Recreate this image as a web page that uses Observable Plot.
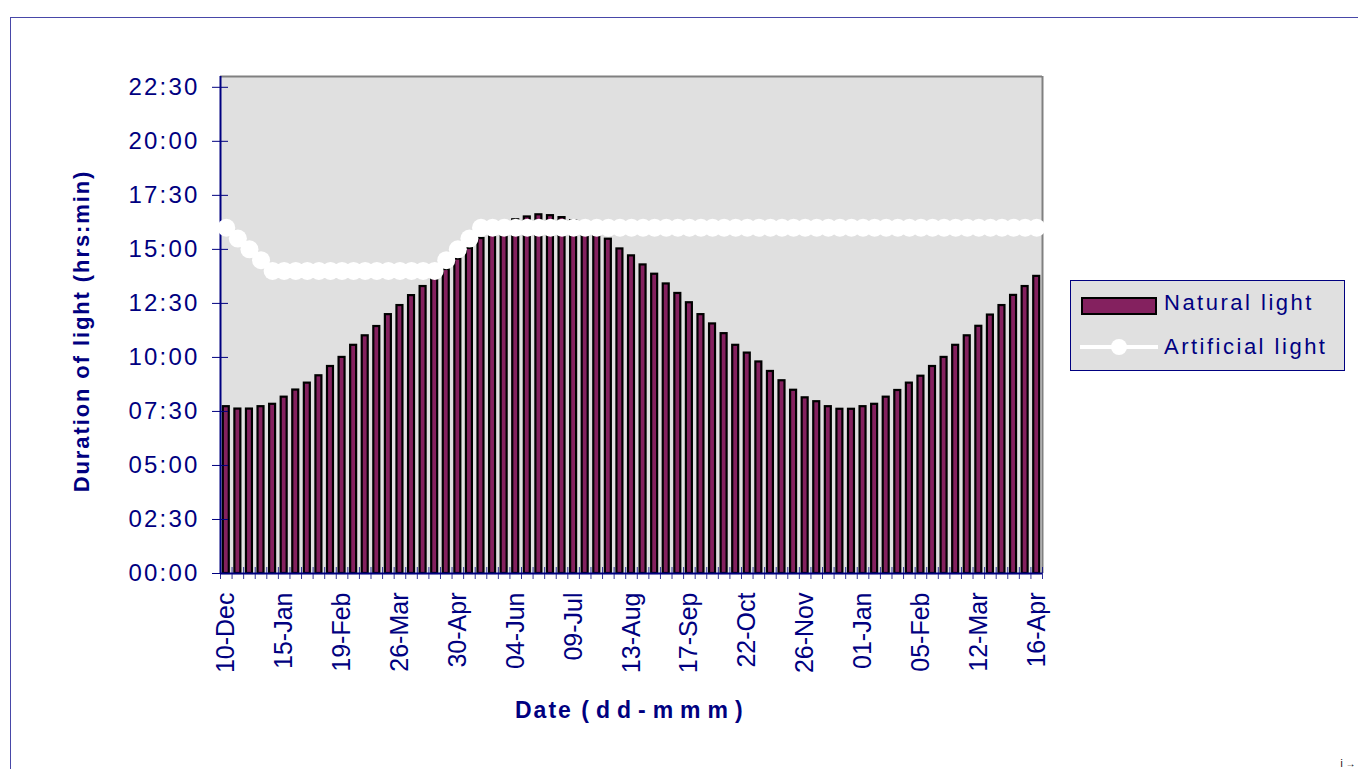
<!DOCTYPE html>
<html>
<head>
<meta charset="utf-8">
<script src="https://cdn.jsdelivr.net/npm/d3@7"></script>
<script src="https://cdn.jsdelivr.net/npm/@observablehq/plot@0.6"></script>
<style>
  body { margin: 0; background: #ffffff; font-family: "Liberation Sans", Arial, sans-serif; overflow: hidden; }
  #wrap { position: relative; width: 1358px; height: 769px; overflow: hidden; background: #fff; }
  #frame { position: absolute; left: 10px; top: 17px; width: 1360px; height: 760px; border: 1px solid #4848a8; }
  #chart { position: absolute; left: 0; top: 0; }
  #chart svg g[aria-label="y-axis tick label"] text { letter-spacing: 2.2px; }
  .ytitle { position: absolute; left: 82px; top: 331px; transform: translate(-50%, -50%) rotate(-90deg);
            white-space: nowrap; font-weight: bold; font-size: 22px; letter-spacing: 1.9px; color: #000080; }
  .xtitle { position: absolute; left: 515px; top: 699px; white-space: nowrap; font-weight: bold;
            font-size: 23px; line-height: 23px; color: #000080; }
  #legend { position: absolute; left: 1070px; top: 280px; width: 275px; height: 91px;
            background: #e0e0e0; border: 1px solid #000080; box-sizing: border-box; }
  .lrow { position: absolute; left: 0; font-size: 22px; letter-spacing: 2.5px; color: #000080; white-space: nowrap; line-height: 22px; }
</style>
</head>
<body>
<div id="wrap">
  <div id="frame"></div>
  <div id="chart"></div>
  <div class="ytitle">Duration of light (hrs:min)</div>
  <div class="xtitle"><span style="letter-spacing:2px">Date </span><span style="letter-spacing:7px">(dd-mmm)</span></div>
  <div id="legend"></div>
</div>
<script>
// ---- data (hours of light per week) ----
const tickLabels = ["10-Dec","15-Jan","19-Feb","26-Mar","30-Apr","04-Jun","09-Jul","13-Aug","17-Sep","22-Oct","26-Nov","01-Jan","05-Feb","12-Mar","16-Apr"];

const naturalHours = [
  7.72, 7.61, 7.61, 7.72, 7.83, 8.16, 8.49, 8.81, 9.15, 9.58,
  10.0, 10.56, 11.0, 11.43, 11.98, 12.4, 12.86, 13.28, 13.7, 14.07,
  14.55, 15.04, 15.5, 15.85, 16.15, 16.37, 16.5, 16.6, 16.56, 16.47,
  16.33, 16.1, 15.8, 15.47, 15.02, 14.7, 14.28, 13.85, 13.4, 12.96,
  12.53, 11.98, 11.55, 11.1, 10.56, 10.2, 9.79, 9.35, 8.92, 8.48,
  8.13, 7.95, 7.72, 7.6, 7.6, 7.72, 7.83, 8.16, 8.47, 8.81,
  9.13, 9.58, 10.0, 10.56, 11.0, 11.44, 11.96, 12.4, 12.87, 13.28,
  13.75
];

const artificialHours = [
  16, 15.5, 15, 14.5, 14, 14, 14, 14, 14, 14,
  14, 14, 14, 14, 14, 14, 14, 14, 14, 14.5,
  15, 15.5, 16, 16, 16, 16, 16, 16, 16, 16,
  16, 16, 16, 16, 16, 16, 16, 16, 16, 16,
  16, 16, 16, 16, 16, 16, 16, 16, 16, 16,
  16, 16, 16, 16, 16, 16, 16, 16, 16, 16,
  16, 16, 16, 16, 16, 16, 16, 16, 16, 16,
  16
];

const yTicks = [0, 2.5, 5, 7.5, 10, 12.5, 15, 17.5, 20, 22.5];
const yMax = 23;

// ---- build table ----
const n = naturalHours.length;
const data = naturalHours.map((v, i) => ({ i, natural: v, artificial: artificialHours[i] }));
const navy = "#000080";
const fmtHM = h => {
  const m = Math.round(h * 60);
  return String(Math.floor(m / 60)).padStart(2, "0") + ":" + String(m % 60).padStart(2, "0");
};
const labelPos = tickLabels.map((_, k) => k * 5 + 0.5);

const chart = Plot.plot({
  width: 1358,
  height: 769,
  marginLeft: 220,
  marginRight: 316,
  marginTop: 76,
  marginBottom: 196,
  style: { fontFamily: '"Liberation Sans", Arial, sans-serif', background: "transparent", overflow: "visible" },
  x: { type: "linear", domain: [0, n] },
  y: { domain: [0, yMax] },
  marks: [
    Plot.frame({ fill: "#e0e0e0", stroke: null }),
    Plot.rectY(data, {
      x1: "i", x2: d => d.i + 1, y: "natural",
      insetLeft: 2.8, insetRight: 2.8,
      fill: "#84215f", stroke: "#000", strokeWidth: 2.2
    }),
    Plot.ruleY([yMax], { stroke: "#808080", strokeWidth: 2 }),
    Plot.ruleX([n], { stroke: "#808080", strokeWidth: 2 }),
    Plot.axisX({
      ticks: d3.range(0, n + 1), tickSize: 12, dy: -6,
      tickFormat: () => "", stroke: navy, strokeOpacity: 0.8
    }),
    Plot.axisX({
      ticks: labelPos, tickSize: 0, tickPadding: 19, tickRotate: -90,
      tickFormat: v => tickLabels[Math.round((v - 0.5) / 5)],
      fontSize: 25, fill: navy, label: null
    }),
    Plot.axisY({
      ticks: yTicks, tickSize: 16, dx: 8, tickPadding: 13,
      tickFormat: fmtHM, fontSize: 24, color: navy, label: null
    }),
    Plot.ruleX([0], { stroke: navy, strokeWidth: 2 }),
    Plot.ruleY([0], { stroke: navy, strokeWidth: 2 }),
    Plot.line(data, { x: d => d.i + 0.5, y: "artificial", stroke: "#fff", strokeWidth: 4, clip: false }),
    Plot.dot(data, { x: d => d.i + 0.5, y: "artificial", r: 9, fill: "#fff", stroke: null, clip: false })
  ]
});
document.getElementById("chart").appendChild(chart);

// ---- legend ----
const legend = document.getElementById("legend");
legend.innerHTML = `
  <svg width="275" height="91" style="position:absolute;left:0;top:0">
    <rect x="11" y="17" width="74" height="16" fill="#84215f" stroke="#000" stroke-width="2"></rect>
    <line x1="9" x2="87" y1="66" y2="66" stroke="#fff" stroke-width="4"></line>
    <circle cx="48" cy="66" r="8" fill="#fff"></circle>
  </svg>
  <div class="lrow" style="left:93px;top:11px">Natural light</div>
  <div class="lrow" style="left:93px;top:55px">Artificial light</div>
`;
</script>
</body>
</html>
